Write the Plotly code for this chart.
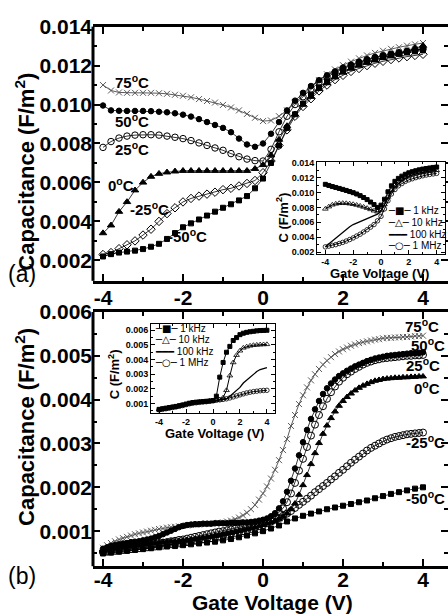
import plotly.graph_objects as go

FONT = "Liberation Sans, Arial, sans-serif"

# ---------------- data ----------------
V_A = [round(-4 + 0.2 * i, 1) for i in range(41)]
V_B = [round(-4 + 0.1 * i, 1) for i in range(81)]
V_B2 = [round(-4 + 0.2 * i, 1) for i in range(41)]
V_IN = [round(-4 + 0.25 * i, 2) for i in range(33)]

# panel (a)
A_75 = [0.0110, 0.01072, 0.01062, 0.0106, 0.0106, 0.0106, 0.0106, 0.01058, 0.01055, 0.0105,
        0.01045, 0.01037, 0.01028, 0.01018, 0.0101, 0.00998, 0.00985, 0.0097, 0.00952, 0.00932,
        0.00915, 0.00918, 0.0094, 0.0097, 0.0101, 0.0105, 0.0109, 0.01125, 0.01155, 0.0118,
        0.01202, 0.0122, 0.01237, 0.01252, 0.01265, 0.01276, 0.01286, 0.01294, 0.01302, 0.01309, 0.01316]
A_50 = [0.00995, 0.0097, 0.00968, 0.00967, 0.00967, 0.00967, 0.00966, 0.00963, 0.0096, 0.00955,
        0.00948, 0.00938, 0.00925, 0.0091, 0.00895, 0.0088, 0.00858, 0.00825, 0.00795, 0.00783,
        0.0080, 0.0085, 0.0091, 0.0097, 0.0102, 0.0106, 0.01095, 0.01125, 0.0115, 0.0117,
        0.0119, 0.01205, 0.0122, 0.01232, 0.01243, 0.01252, 0.0126, 0.01267, 0.01273, 0.01278, 0.01285]
A_25 = [0.0078, 0.0081, 0.00828, 0.00838, 0.00843, 0.00845, 0.00845, 0.00843, 0.00838, 0.00832,
        0.00825, 0.00815, 0.00803, 0.0079, 0.00777, 0.00765, 0.00748, 0.00732, 0.0072, 0.00712,
        0.0071, 0.0077, 0.0086, 0.0094, 0.0100, 0.0104, 0.0108, 0.01115, 0.01142, 0.01165,
        0.01185, 0.012, 0.01215, 0.01228, 0.0124, 0.0125, 0.01258, 0.01266, 0.01273, 0.01279, 0.01285]
A_0 = [0.0034, 0.0038, 0.0045, 0.0050, 0.0056, 0.0060, 0.0063, 0.00645, 0.00652, 0.00657,
       0.0066, 0.0066, 0.0066, 0.0066, 0.0066, 0.0066, 0.0066, 0.0066, 0.0066, 0.0067,
       0.0069, 0.0074, 0.0082, 0.0089, 0.0095, 0.0100, 0.0104, 0.0108, 0.0111, 0.0114,
       0.01165, 0.01185, 0.012, 0.01215, 0.01228, 0.0124, 0.0125, 0.0126, 0.01275, 0.0129, 0.01302]
A_M25 = [0.0023, 0.0024, 0.0026, 0.0028, 0.0030, 0.0033, 0.0036, 0.0040, 0.0044, 0.0047,
         0.0050, 0.00518, 0.0053, 0.0054, 0.0055, 0.00563, 0.0057, 0.00582, 0.00595, 0.0061,
         0.0065, 0.0071, 0.0079, 0.0087, 0.0094, 0.0099, 0.0103, 0.0107, 0.011, 0.01128,
         0.0115, 0.0117, 0.01185, 0.012, 0.01212, 0.01222, 0.01231, 0.01239, 0.01246, 0.01252, 0.01258]
A_M50 = [0.0022, 0.00232, 0.0024, 0.00245, 0.0025, 0.00258, 0.0027, 0.00285, 0.0031, 0.0034,
         0.0037, 0.0039, 0.0041, 0.0043, 0.0045, 0.0047, 0.00488, 0.00508, 0.0053, 0.0057,
         0.0062, 0.0070, 0.0079, 0.0088, 0.0095, 0.01005, 0.0105, 0.01088, 0.0112, 0.01148,
         0.0117, 0.0119, 0.01207, 0.0122, 0.01232, 0.01243, 0.01252, 0.0126, 0.01267, 0.01273, 0.01278]

# panel (b)
B_75 = [0.00062, 0.00068, 0.00073, 0.00077, 0.00081, 0.00084, 0.00087, 0.0009, 0.00093, 0.00095,
        0.00097, 0.00099, 0.00101, 0.00103, 0.00105, 0.00106, 0.00108, 0.00109, 0.0011, 0.00111,
        0.00112, 0.00113, 0.00114, 0.00115, 0.00115, 0.00116, 0.00117, 0.00117, 0.00118, 0.00119,
        0.0012, 0.00122, 0.00124, 0.00127, 0.00131, 0.00136, 0.00142, 0.0015, 0.0016, 0.00172,
        0.00186, 0.00202, 0.0022, 0.0024, 0.00262, 0.00285, 0.0031, 0.0034, 0.00365, 0.0039,
        0.0041, 0.00428, 0.00444, 0.00458, 0.0047, 0.0048, 0.00489, 0.00497, 0.00504, 0.0051,
        0.00515, 0.00519, 0.00523, 0.00526, 0.00529, 0.00531, 0.00533, 0.00535, 0.00537, 0.00538,
        0.0054, 0.00541, 0.00541, 0.00542, 0.00542, 0.00543, 0.00543, 0.00544, 0.00545, 0.00545, 0.00546]
B_50 = [0.0006, 0.00063, 0.00066, 0.00068, 0.0007, 0.00072, 0.00073, 0.00075, 0.00076, 0.00077,
        0.00079, 0.00081, 0.00083, 0.00086, 0.00089, 0.00093, 0.00097, 0.00101, 0.00105, 0.00109,
        0.00112, 0.00114, 0.00115, 0.00116, 0.00116, 0.00117, 0.00117, 0.00117, 0.00118, 0.00118,
        0.00118, 0.00118, 0.00119, 0.00119, 0.00119, 0.0012, 0.0012, 0.00121, 0.00122, 0.00124,
        0.00126, 0.00129, 0.00134, 0.00141, 0.00152, 0.00168, 0.0019, 0.00215, 0.00243, 0.00273,
        0.00303, 0.00331, 0.00356, 0.00378, 0.00397, 0.00413, 0.00426, 0.00437, 0.00446, 0.00454,
        0.0046, 0.00466, 0.00471, 0.00476, 0.0048, 0.00484, 0.00488, 0.00491, 0.00494, 0.00496,
        0.00498, 0.005, 0.00501, 0.00502, 0.00503, 0.00504, 0.00505, 0.00506, 0.00506, 0.00507, 0.00508]
B_25 = [0.00053, 0.00055, 0.00056, 0.00058, 0.00059, 0.0006, 0.00062, 0.00063, 0.00064, 0.00066,
        0.00067, 0.00068, 0.0007, 0.00071, 0.00073, 0.00074, 0.00075, 0.00077, 0.00078, 0.0008,
        0.00081, 0.00083, 0.00085, 0.00087, 0.00089, 0.00091, 0.00093, 0.00095, 0.00097, 0.00099,
        0.001, 0.00102, 0.00104, 0.00106, 0.00108, 0.00111, 0.00113, 0.00115, 0.00117, 0.0012,
        0.00122, 0.00125, 0.00129, 0.00135, 0.00143, 0.00152, 0.00166, 0.00186, 0.0021, 0.00238,
        0.00265, 0.00292, 0.00318, 0.00343, 0.00365, 0.00385, 0.00402, 0.00417, 0.0043, 0.00441,
        0.0045, 0.00458, 0.00464, 0.0047, 0.00475, 0.0048, 0.00484, 0.00487, 0.0049, 0.00492,
        0.00494, 0.00495, 0.00496, 0.00497, 0.00498, 0.00499, 0.005, 0.005, 0.00501, 0.00501, 0.00502]
B_0 = [0.00058, 0.0006, 0.00061, 0.00062, 0.00063, 0.00065, 0.00066, 0.00067, 0.00068, 0.00069,
       0.0007, 0.00071, 0.00072, 0.00073, 0.00074, 0.00075, 0.00076, 0.00077, 0.00077, 0.00078,
       0.00079, 0.0008, 0.00081, 0.00082, 0.00083, 0.00085, 0.00086, 0.00087, 0.00089, 0.0009,
       0.00092, 0.00094, 0.00096, 0.00098, 0.001, 0.00102, 0.00104, 0.00106, 0.00108, 0.00111,
       0.00114, 0.00117, 0.0012, 0.00123, 0.00127, 0.00133, 0.0014, 0.0015, 0.00163, 0.00183,
       0.00205, 0.00228, 0.00253, 0.00278, 0.00301, 0.00322, 0.00341, 0.00358, 0.00373, 0.00386,
       0.00397, 0.00406, 0.00414, 0.00421, 0.00427, 0.00432, 0.00436, 0.0044, 0.00443, 0.00445,
       0.00447, 0.00448, 0.00449, 0.0045, 0.0045, 0.00451, 0.00451, 0.00452, 0.00452, 0.00453, 0.00453]
B_M25 = [0.00052, 0.00053, 0.00054, 0.00055, 0.00056, 0.00057, 0.00058, 0.00059, 0.0006, 0.00061,
         0.00062, 0.00063, 0.00064, 0.00065, 0.00066, 0.00067, 0.00068, 0.0007, 0.00071, 0.00072,
         0.00074, 0.00075, 0.00076, 0.00078, 0.00079, 0.00081, 0.00082, 0.00084, 0.00086, 0.00088,
         0.0009, 0.00092, 0.00094, 0.00096, 0.00098, 0.001, 0.00102, 0.00105, 0.00108, 0.00111,
         0.00114, 0.00118, 0.00122, 0.00126, 0.0013, 0.00135, 0.0014, 0.00146, 0.00153, 0.0016,
         0.00167, 0.00174, 0.00181, 0.00189, 0.00196, 0.00203, 0.0021, 0.00218, 0.00225, 0.00233,
         0.0024, 0.00248, 0.00256, 0.00263, 0.0027, 0.00277, 0.00284, 0.0029, 0.00295, 0.003,
         0.00305, 0.00309, 0.00312, 0.00315, 0.00317, 0.00319, 0.00321, 0.00322, 0.00323, 0.00324, 0.00325]
B_M50 = [0.00049, 0.00051, 0.00053, 0.00055, 0.00057, 0.00059, 0.00061, 0.00063, 0.00065, 0.00066,
         0.00068, 0.0007, 0.00072, 0.00074, 0.00076, 0.00079, 0.00082, 0.00086, 0.0009, 0.00095,
         0.001, 0.00106, 0.00113, 0.00122, 0.00129, 0.00135, 0.0014, 0.00145, 0.0015, 0.00154,
         0.00158, 0.00162, 0.00166, 0.0017, 0.00175, 0.0018, 0.00185, 0.00189, 0.00193, 0.00197, 0.002]

# inset (a)
IA_1K = [0.0111, 0.01095, 0.0108, 0.01068, 0.01055, 0.01042, 0.01028, 0.01013, 0.00998, 0.0098,
         0.00958, 0.00933, 0.00905, 0.00872, 0.00838, 0.0080, 0.0083, 0.0091, 0.0101, 0.0109,
         0.0115, 0.0119, 0.0122, 0.01245, 0.01265, 0.0128, 0.01293, 0.01305, 0.01315, 0.01323,
         0.0133, 0.01337, 0.01342]
IA_10K = [0.0078, 0.0081, 0.00835, 0.00848, 0.00855, 0.00857, 0.00855, 0.0085, 0.00842, 0.00832,
          0.0082, 0.00806, 0.0079, 0.00773, 0.00755, 0.00742, 0.0076, 0.0084, 0.0094, 0.0103,
          0.0110, 0.01145, 0.0118, 0.01205, 0.01225, 0.0124, 0.01253, 0.01263, 0.01272, 0.0128,
          0.01287, 0.01293, 0.01298]
IA_100K = [0.0027, 0.0031, 0.0035, 0.0039, 0.0043, 0.0047, 0.0051, 0.0054, 0.0057, 0.0059,
           0.0061, 0.0063, 0.0064, 0.0066, 0.0068, 0.0071, 0.0075, 0.0083, 0.0093, 0.0101,
           0.0107, 0.0112, 0.0116, 0.0119, 0.01215, 0.01235, 0.0125, 0.01263, 0.01273, 0.01282,
           0.0129, 0.01297, 0.01303]
IA_1M = [0.0027, 0.0028, 0.0029, 0.0030, 0.00315, 0.0033, 0.00348, 0.00368, 0.0039, 0.00415,
         0.0044, 0.0047, 0.005, 0.00535, 0.0057, 0.0062, 0.0068, 0.0078, 0.0089, 0.0098,
         0.0104, 0.0109, 0.0112, 0.0115, 0.0117, 0.01185, 0.012, 0.01213, 0.01225, 0.01235,
         0.01243, 0.0125, 0.01257]

# inset (b)
IB_1K = [0.0006, 0.00064, 0.00068, 0.00072, 0.00076, 0.0008, 0.00085, 0.0009, 0.00096, 0.00102,
         0.00106, 0.00109, 0.00111, 0.00113, 0.00115, 0.00117, 0.0012, 0.0015, 0.0028, 0.0038,
         0.0045, 0.0049, 0.0053, 0.0055, 0.0057, 0.0058, 0.00586, 0.0059, 0.00593, 0.00596,
         0.00598, 0.00599, 0.006]
IB_10K = [0.00058, 0.00062, 0.00066, 0.0007, 0.00074, 0.00078, 0.00083, 0.00088, 0.00094, 0.001,
          0.00104, 0.00107, 0.0011, 0.00112, 0.00114, 0.00117, 0.0012, 0.00122, 0.00125, 0.0014,
          0.0019, 0.0029, 0.0038, 0.0043, 0.0046, 0.0048, 0.00488, 0.00494, 0.00498, 0.005,
          0.00502, 0.00503, 0.00504]
IB_100K = [0.00057, 0.00061, 0.00065, 0.00069, 0.00073, 0.00077, 0.00082, 0.00087, 0.00093, 0.00099,
           0.00103, 0.00106, 0.00109, 0.00111, 0.00113, 0.00116, 0.00119, 0.00121, 0.00122, 0.00125,
           0.0013, 0.0015, 0.0017, 0.0019, 0.0021, 0.0024, 0.0026, 0.0028, 0.003, 0.00318,
           0.00332, 0.0034, 0.00345]
IB_1M = [0.00056, 0.0006, 0.00064, 0.00068, 0.00072, 0.00076, 0.00081, 0.00086, 0.00092, 0.00098,
         0.00102, 0.00105, 0.00108, 0.0011, 0.00112, 0.00115, 0.00118, 0.00122, 0.00125, 0.00128,
         0.00132, 0.00138, 0.00145, 0.00152, 0.00159, 0.00166, 0.00172, 0.00177, 0.00181, 0.00184,
         0.00187, 0.00189, 0.0019]

X_TICKS = [-4, -2, 0, 2, 4]
X_TICKTEXT = ["-4", "-2", "0", "2", "4"]
X_MINOR = [-3, -1, 1, 3]
YA_TICKS = [0.002, 0.004, 0.006, 0.008, 0.010, 0.012, 0.014]
YA_MINOR = [0.003, 0.005, 0.007, 0.009, 0.011, 0.013]
YB_TICKS = [0.001, 0.002, 0.003, 0.004, 0.005, 0.006]
YB_MINOR = [0.0005, 0.0015, 0.0025, 0.0035, 0.0045, 0.0055]

TEMP_LABELS = ["75", "50", "25", "0", "-25", "-50"]
FREQ_LABELS = ["1 kHz", "10 kHz", "100 kHz", "1 MHz"]

# ---------------- figure ----------------
W, H = 448, 616
fig = go.Figure()


def px_x(p):
    return p / W


def px_y(p):
    return 1 - p / H


GRAY = "#5a5a5a"


def add(x, y, xa, ya, symbol, size, color="black", lw=0.8, mlw=1.0):
    fig.add_trace(go.Scatter(
        x=x, y=y, xaxis=xa, yaxis=ya, mode="lines+markers",
        line=dict(color=color, width=lw),
        marker=dict(symbol=symbol, size=size, color=color,
                    line=dict(color=color, width=mlw)),
        showlegend=False, hoverinfo="skip"))


# panel (a)
add(V_A, A_75, "x", "y", "x-thin", 6, GRAY, lw=1.0, mlw=1.0)
add(V_A, A_50, "x", "y", "circle", 5.5)
add(V_A, A_25, "x", "y", "circle-open", 6.5, mlw=1.0)
add(V_A, A_0, "x", "y", "triangle-up", 6.5)
add(V_A, A_M25, "x", "y", "diamond-open", 6.5, mlw=1.0)
add(V_A, A_M50, "x", "y", "square", 5)

# panel (b)
add(V_B, B_75, "x2", "y2", "x-thin", 6, GRAY, lw=1.0, mlw=1.0)
add(V_B, B_50, "x2", "y2", "circle", 5.5)
add(V_B, B_25, "x2", "y2", "circle-open", 7, mlw=1.0)
add(V_B, B_0, "x2", "y2", "triangle-up", 6)
add(V_B, B_M25, "x2", "y2", "circle-open", 7, mlw=1.0)
add(V_B2, B_M50, "x2", "y2", "square", 5)

# inset (a)
add(V_IN, IA_1K, "x3", "y3", "square", 4, lw=1.0)
add(V_IN, IA_10K, "x3", "y3", "triangle-up-open", 5, lw=1.0, mlw=0.8)
fig.add_trace(go.Scatter(x=V_IN, y=IA_100K, xaxis="x3", yaxis="y3", mode="lines",
                         line=dict(color="black", width=1.3), showlegend=False, hoverinfo="skip"))
add(V_IN, IA_1M, "x3", "y3", "circle-open", 4.5, lw=1.0, mlw=0.8)

# inset (b)
add(V_IN, IB_1K, "x4", "y4", "square", 4, lw=1.0)
add(V_IN, IB_10K, "x4", "y4", "triangle-up-open", 5, lw=1.0, mlw=0.8)
fig.add_trace(go.Scatter(x=V_IN, y=IB_100K, xaxis="x4", yaxis="y4", mode="lines",
                         line=dict(color="black", width=1.3), showlegend=False, hoverinfo="skip"))
add(V_IN, IB_1M, "x4", "y4", "circle-open", 4.5, lw=1.0, mlw=0.8)

BIG = dict(family=FONT, size=21, color="black", weight="bold")
SMALL = dict(family=FONT, size=9, color="black", weight="bold")


def main_x(anchor, standoff):
    return dict(domain=[px_x(93), 1.0], range=[-4.25, 4.625], anchor=anchor,
                tickvals=X_TICKS, ticktext=X_TICKTEXT, ticks="inside", ticklen=7, tickwidth=2,
                minor=dict(ticks="inside", ticklen=4, tickwidth=2, tickvals=X_MINOR),
                showline=True, linewidth=3, linecolor="black", mirror="ticks",
                showgrid=False, zeroline=False, tickfont=BIG, tickcolor="black",
                ticklabelstandoff=standoff)


def main_y(anchor, dom, rng, tv, mv):
    return dict(domain=dom, range=rng, anchor=anchor, tickvals=tv, tickformat=".3f",
                ticks="inside", ticklen=7, tickwidth=2,
                minor=dict(ticks="inside", ticklen=4, tickwidth=2, tickvals=mv),
                showline=False, mirror="ticks", showgrid=False, zeroline=False,
                tickfont=BIG, tickcolor="black")


def inset_x(anchor, dom):
    return dict(domain=dom, range=[-4.6, 4.6], anchor=anchor,
                tickvals=X_TICKS, ticktext=X_TICKTEXT, ticks="inside", ticklen=4, tickwidth=1,
                minor=dict(ticks="inside", ticklen=2, tickwidth=1, tickvals=X_MINOR),
                showline=True, linewidth=1, linecolor="black", mirror="ticks",
                showgrid=False, zeroline=False, tickfont=SMALL, tickcolor="black")


def inset_y(anchor, dom, rng, tv, mv):
    return dict(domain=dom, range=rng, anchor=anchor, tickvals=tv, tickformat=".3f",
                ticks="inside", ticklen=4, tickwidth=1,
                minor=dict(ticks="inside", ticklen=2, tickwidth=1, tickvals=mv),
                showline=True, linewidth=1, linecolor="black", mirror="ticks",
                showgrid=False, zeroline=False, tickfont=SMALL, tickcolor="black")


fig.update_layout(
    width=W, height=H, margin=dict(l=0, r=0, t=0, b=0),
    paper_bgcolor="white", plot_bgcolor="white", showlegend=False,
    font=dict(family=FONT, color="black"),
    xaxis=main_x("y", -4),
    yaxis=main_y("x", [px_y(276), px_y(15)], [0.00095, 0.014], YA_TICKS, YA_MINOR),
    xaxis2=main_x("y2", -7),
    yaxis2=main_y("x2", [px_y(569), px_y(308)], [0.0002, 0.006], YB_TICKS, YB_MINOR),
    xaxis3=inset_x("y3", [px_x(317), px_x(445)]),
    yaxis3=inset_y("x3", [px_y(248), px_y(154)], [0.0018, 0.0141], YA_TICKS,
                   [0.003, 0.005, 0.007, 0.009, 0.011, 0.013]),
    xaxis4=inset_x("y4", [px_x(151), px_x(275)]),
    yaxis4=inset_y("x4", [px_y(412), px_y(320)], [0.00033, 0.00645], YB_TICKS, YB_MINOR),
)

# left frame lines of the main panels
for xr, yr in (("x", "y"), ("x2", "y2")):
    fig.add_shape(type="line", xref=xr + " domain", yref=yr + " domain",
                  x0=0, x1=0, y0=0, y1=1, line=dict(color="black", width=3))

ann = []
TB = dict(family=FONT, size=22, color="black", weight="bold")
ann.append(dict(text="Capacitance (F/m<sup>2</sup>)", x=px_x(25), y=px_y(164), textangle=-90, font=TB))
ann.append(dict(text="Capacitance (F/m<sup>2</sup>)", x=px_x(25), y=px_y(426), textangle=-90, font=TB))
ann.append(dict(text="Gate Voltage (V)", x=px_x(272), y=px_y(606),
                font=dict(family=FONT, size=21, color="black", weight="bold")))
ann.append(dict(text="(a)", x=px_x(22), y=px_y(269), font=dict(family=FONT, size=23, color="black")))
ann.append(dict(text="(b)", x=px_x(22), y=px_y(579), font=dict(family=FONT, size=23, color="black")))

TS = dict(family=FONT, size=13, color="black", weight="bold")
ann.append(dict(text="Gate Voltage (V)", x=px_x(379), y=px_y(268), font=TS))
ann.append(dict(text="C (F/m<sup>2</sup>)", x=px_x(282), y=px_y(211), textangle=-90, font=TS))
ann.append(dict(text="Gate Voltage (V)", x=px_x(214), y=px_y(433), font=TS))
ann.append(dict(text="C (F/m<sup>2</sup>)", x=px_x(114), y=px_y(372), textangle=-90, font=TS))

# temperature labels
TL = dict(family=FONT, size=15, color="black", weight="bold")
pos_a = [(-3.28, 0.0112), (-3.28, 0.0092), (-3.28, 0.00775), (-3.55, 0.0059), (-2.83, 0.00465), (-1.88, 0.0033)]
for t, (xx, yy) in zip(TEMP_LABELS, pos_a):
    ann.append(dict(text=t + "<sup>o</sup>C", x=xx, y=yy, xref="x", yref="y", font=TL))
pos_b = [(3.97, 0.00569), (4.13, 0.00527), (4.0, 0.0048), (4.1, 0.00427), (4.06, 0.00304), (4.05, 0.00176)]
for t, (xx, yy) in zip(TEMP_LABELS, pos_b):
    ann.append(dict(text=t + "<sup>o</sup>C", x=xx, y=yy, xref="x2", yref="y2", font=TL))

# inset legends (text keys)
KEYS = ["─■─", "─△─", "━━━", "─○─"]
LF = dict(family=FONT, size=10, color="black")
for i, (k, lab) in enumerate(zip(KEYS, FREQ_LABELS)):
    key = '<span style="font-family:DejaVu Sans">' + k + '</span> ' + lab
    ann.append(dict(text=key, x=px_x(386), y=px_y(204 + 12 * i), xanchor="left", font=LF))
    ann.append(dict(text=key, x=px_x(153), y=px_y(325 + 11.7 * i), xanchor="left", font=LF))

for a in ann:
    a.setdefault("xref", "paper")
    a.setdefault("yref", "paper")
    a.setdefault("showarrow", False)
    a.setdefault("xanchor", "center")
    a.setdefault("yanchor", "middle")
fig.update_layout(annotations=ann)

fig.write_html("out.html")
